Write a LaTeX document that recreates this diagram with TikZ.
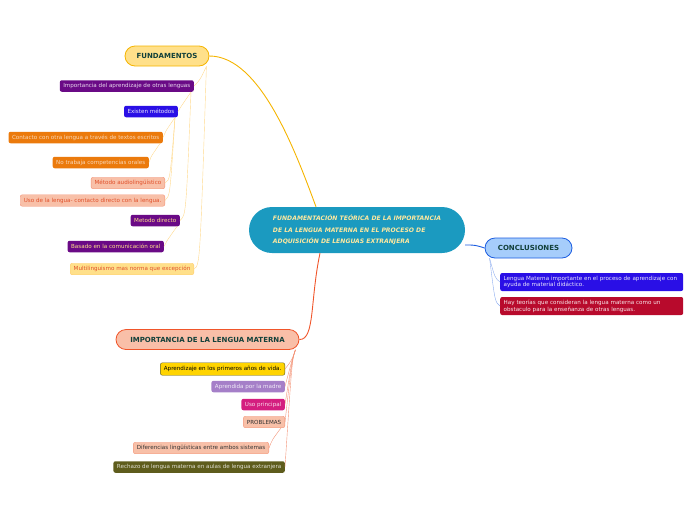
\documentclass[tikz,border=0pt]{standalone}
\usepackage{fontspec}
\setmainfont{DejaVu Sans}
\definecolor{fundfill}{HTML}{FFE08A}
\definecolor{fundline}{HTML}{F5B400}
\definecolor{leafline}{HTML}{FFD98C}
\definecolor{mainfill}{HTML}{1B9AC0}
\definecolor{maintext}{HTML}{FFE9A0}
\definecolor{concfill}{HTML}{A6CDFB}
\definecolor{concline}{HTML}{1B5CE0}
\definecolor{matfill}{HTML}{F9BFA8}
\definecolor{matline}{HTML}{F0552A}
\definecolor{headtext}{HTML}{12403A}
\definecolor{violeta}{HTML}{6A0A86}
\definecolor{azul}{HTML}{2A0FE6}
\definecolor{naranja}{HTML}{EB7A0C}
\definecolor{salmon}{HTML}{F8C0A8}
\definecolor{salmonline}{HTML}{F39478}
\definecolor{salmontext}{HTML}{E0502A}
\definecolor{amarillo}{HTML}{FFD400}
\definecolor{lila}{HTML}{A57FC8}
\definecolor{magenta}{HTML}{D41E7F}
\definecolor{oliva}{HTML}{5E5C1C}
\definecolor{carmin}{HTML}{B80A2C}
\begin{document}
\begin{tikzpicture}[x=1pt,y=-1pt,
    hoja/.style={rounded corners=2pt,inner xsep=3.5pt,inner ysep=2pt,minimum height=11.5pt,font=\fontsize{5.6}{6.5}\selectfont,anchor=east},
    tema/.style={rounded corners=10pt,minimum height=20pt,font=\fontsize{7}{8}\selectfont\bfseries,text=headtext,line width=0.8pt},
    rama/.style={line width=0.4pt}]
    \useasboundingbox (0,0) rectangle (696,520);
    \node [rounded corners=23pt,fill=mainfill,minimum width=216pt,minimum height=46pt,text=maintext,align=left,
        font=\fontsize{6.1}{11.5}\selectfont\bfseries\itshape] (main) at (357,230)
        {FUNDAMENTACIÓN TEÓRICA DE LA IMPORTANCIA\\DE LA LENGUA MATERNA EN EL PROCESO DE\\ADQUISICIÓN DE LENGUAS EXTRANJERA};
    \node [tema,fill=fundfill,draw=fundline,minimum width=84pt] (fund) at (167,56) {FUNDAMENTOS};
    \node [tema,fill=concfill,draw=concline,minimum width=87pt] (conc) at (528.5,248) {CONCLUSIONES};
    \node [tema,fill=matfill,draw=matline,minimum width=183pt] (mat) at (207.5,339.5) {IMPORTANCIA DE LA LENGUA MATERNA};
    \draw [fundline,line width=0.9pt] (fund.east) .. controls (260,56) and (295,150) .. (main.north west -| 316,0);
    \draw [concline,line width=0.9pt] (main.east |- 0,245) .. controls (475,245) .. (conc.west);
    \draw [matline,line width=0.9pt] (main.south west -| 320,0) .. controls (310,300) and (315,340) .. (mat.east);
    % fundamentos
    \node [hoja,fill=violeta,text=violeta!15] (imp) at (194,86) {Importancia del aprendizaje de otras lenguas};
    \node [hoja,fill=azul,text=azul!10] (met) at (178,111.5) {Existen métodos};
    \node [hoja,fill=naranja,text=naranja!30] (cont) at (163,137.5) {Contacto con otra lengua a través de textos escritos};
    \node [hoja,fill=naranja,text=naranja!30] (orales) at (149,162.5) {No trabaja competencias orales};
    \node [hoja,fill=salmon,draw=salmonline,text=salmontext] (audio) at (165,183) {Método audiolingüístico};
    \node [hoja,fill=salmon,draw=salmonline,text=salmontext] (uso) at (165,200.5) {Uso de la lengua- contacto directo con la lengua.};
    \node [hoja,fill=violeta,text=fundfill] (directo) at (180,220.5) {Metodo directo};
    \node [hoja,fill=violeta,text=fundfill] (oral) at (164,246.5) {Basado en la comunicación oral};
    \node [hoja,fill=fundfill,draw=fundfill!80!orange,text=salmontext] (multi) at (194,269) {Multilinguismo mas norma que excepción};
    \draw [rama,leafline] (fund.south east) ++(-3,0) .. controls (200,80) .. (imp.east);
    \draw [rama,leafline] (fund.south east) ++(-3,0) .. controls (200,265) .. (multi.east);
    \draw [rama,leafline] (imp.south east) ++(-3,0) .. controls (180,108) .. (met.east);
    \draw [rama,leafline] (imp.south east) ++(-3,0) .. controls (186,215) .. (directo.east);
    \draw [rama,leafline] (met.south east) ++(-3,0) .. controls (165,132) .. (cont.east);
    \draw [rama,leafline] (met.south east) ++(-3,0) .. controls (170,180) .. (audio.east);
    \draw [rama,leafline] (met.south east) ++(-3,0) .. controls (170,196) .. (uso.east);
    \draw [rama,leafline] (cont.south east) ++(-3,0) .. controls (150,158) .. (orales.east);
    \draw [rama,leafline] (directo.south east) ++(-3,0) .. controls (166,242) .. (oral.east);
    % conclusiones
    \node [hoja,anchor=west,fill=azul,text=azul!10,align=left,text width=176pt,minimum height=18pt,
        font=\fontsize{5.6}{6.8}\selectfont] (lm) at (500,282) {Lengua Materna importante en el proceso de aprendizaje con\\ayuda de material didáctico.};
    \node [hoja,anchor=west,fill=carmin,text=carmin!10,align=left,text width=176pt,minimum height=18pt,
        font=\fontsize{5.6}{6.8}\selectfont] (teo) at (500,306) {Hay teorías que consideran la lengua materna como un\\obstaculo para la enseñanza de otras lenguas.};
    \draw [rama,concline!50] (conc.south west) ++(5,0) .. controls (495,278) .. (lm.west);
    \draw [rama,concline!50] (conc.south west) ++(5,0) .. controls (495,302) .. (teo.west);
    % lengua materna
    \node [hoja,fill=amarillo,draw=oliva,text=black,minimum height=12.5pt] (vida) at (285,369) {Aprendizaje en los primeros años de vida.};
    \node [hoja,fill=lila,text=lila!15] (madre) at (285,386.5) {Aprendida por la madre};
    \node [hoja,fill=magenta,text=magenta!15] (princ) at (285,404.5) {Uso principal};
    \node [hoja,fill=salmon,draw=salmonline,text=black!80] (prob) at (285,422) {PROBLEMAS};
    \node [hoja,fill=salmon,draw=salmonline,text=black!80] (dif) at (269,448) {Diferencias lingüísticas entre ambos sistemas};
    \node [hoja,fill=oliva,text=oliva!20] (rech) at (285,467) {Rechazo de lengua materna en aulas de lengua extranjera};
    \foreach \n in {vida,madre,princ,prob,rech}
        \draw [rama,salmonline] (mat.south east) ++(-4,0) .. controls (292,360) .. (\n.east);
    \draw [rama,salmonline] (prob.south east) ++(-4,0) .. controls (272,440) .. (dif.east);
\end{tikzpicture}
\end{document}
